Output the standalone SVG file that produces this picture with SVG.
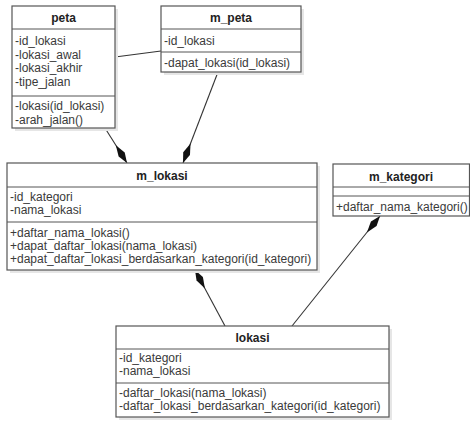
<svg xmlns="http://www.w3.org/2000/svg" width="470" height="423" viewBox="0 0 470 423">
<defs>
<style>
.shadow{fill:#e6e6e6;stroke:none}
.box{fill:#ffffff;stroke:#555555;stroke-width:1.2}
.sep{stroke:#555555;stroke-width:1}
.t{font-family:"Liberation Sans",Arial,sans-serif;font-size:12px;fill:#3a3a3a}
.title{font-family:"Liberation Sans",Arial,sans-serif;font-size:12px;font-weight:bold;fill:#222222;text-anchor:middle}
.conn{stroke:#333333;stroke-width:1.1;fill:none}
</style>
<marker id="diamond" markerUnits="userSpaceOnUse" markerWidth="24" markerHeight="10" viewBox="0 -5 24 10" refX="0" refY="0" orient="auto">
<path d="M0,0 L10,-3.6 L21,0 L10,3.6 Z" fill="#111111"/>
</marker>
</defs>
<rect width="470" height="423" fill="#ffffff"/>

<g id="connectors">
<line class="conn" x1="115" y1="57" x2="161" y2="51"/>
<path class="conn" d="M127,163 L105,128" marker-start="url(#diamond)"/>
<path class="conn" d="M183,163 L218,72" marker-start="url(#diamond)"/>
<path class="conn" d="M195,270 L225,326" marker-start="url(#diamond)"/>
<path class="conn" d="M380,216 L292,326" marker-start="url(#diamond)"/>
</g>

<g id="peta">
<rect class="shadow" x="15" y="9" width="103" height="122"/>
<rect class="box" x="12" y="6" width="103" height="122"/>
<line class="sep" x1="12" y1="29" x2="115" y2="29"/>
<line class="sep" x1="12" y1="96" x2="115" y2="96"/>
<text class="title" x="63.5" y="22">peta</text>
<text class="t" x="15" y="45">-id_lokasi</text>
<text class="t" x="15" y="58.5">-lokasi_awal</text>
<text class="t" x="15" y="72">-lokasi_akhir</text>
<text class="t" x="15" y="85.5">-tipe_jalan</text>
<text class="t" x="15" y="110">-lokasi(id_lokasi)</text>
<text class="t" x="15" y="123.5">-arah_jalan()</text>
</g>

<g id="m_peta">
<rect class="shadow" x="164" y="9" width="140" height="66"/>
<rect class="box" x="161" y="6" width="140" height="66"/>
<line class="sep" x1="161" y1="29" x2="301" y2="29"/>
<line class="sep" x1="161" y1="52" x2="301" y2="52"/>
<text class="title" x="231" y="22">m_peta</text>
<text class="t" x="164" y="45">-id_lokasi</text>
<text class="t" x="164" y="67">-dapat_lokasi(id_lokasi)</text>
</g>

<g id="m_lokasi">
<rect class="shadow" x="10" y="166" width="310" height="107"/>
<rect class="box" x="7" y="163" width="310" height="107"/>
<line class="sep" x1="7" y1="187" x2="317" y2="187"/>
<line class="sep" x1="7" y1="222" x2="317" y2="222"/>
<text class="title" x="162" y="180">m_lokasi</text>
<text class="t" x="10" y="201">-id_kategori</text>
<text class="t" x="10" y="214">-nama_lokasi</text>
<text class="t" x="10" y="237">+daftar_nama_lokasi()</text>
<text class="t" x="10" y="250">+dapat_daftar_lokasi(nama_lokasi)</text>
<text class="t" x="10" y="263">+dapat_daftar_lokasi_berdasarkan_kategori(id_kategori)</text>
</g>

<g id="m_kategori">
<rect class="box" x="333" y="164" width="136.5" height="52"/>
<line class="sep" x1="333" y1="187" x2="470" y2="187"/>
<line class="sep" x1="333" y1="196" x2="470" y2="196"/>
<text class="title" x="401" y="181">m_kategori</text>
<text class="t" x="336" y="211">+daftar_nama_kategori()</text>
</g>

<g id="lokasi">
<rect class="shadow" x="119" y="329" width="273" height="91"/>
<rect class="box" x="116" y="326" width="273" height="91"/>
<line class="sep" x1="116" y1="349" x2="389" y2="349"/>
<line class="sep" x1="116" y1="383" x2="389" y2="383"/>
<text class="title" x="252.5" y="342">lokasi</text>
<text class="t" x="119" y="362">-id_kategori</text>
<text class="t" x="119" y="375">-nama_lokasi</text>
<text class="t" x="119" y="397">-daftar_lokasi(nama_lokasi)</text>
<text class="t" x="119" y="410">-daftar_lokasi_berdasarkan_kategori(id_kategori)</text>
</g>
</svg>
